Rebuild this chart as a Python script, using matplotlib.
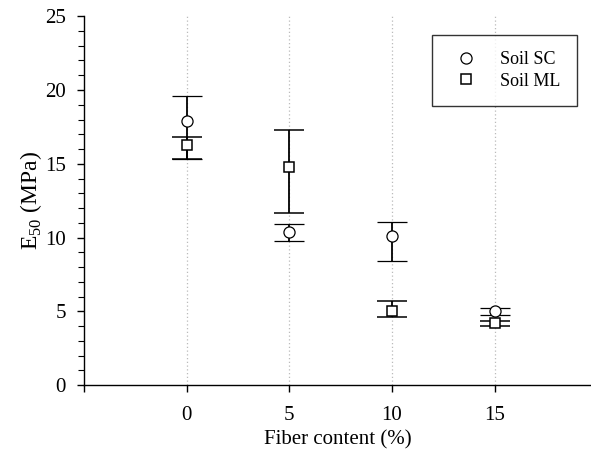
import matplotlib
matplotlib.use("Agg")
import matplotlib.pyplot as plt
import numpy as np

plt.rcParams["font.family"] = ["Liberation Serif", "DejaVu Serif"]
plt.rcParams["mathtext.fontset"] = "custom"
plt.rcParams["mathtext.rm"] = "Liberation Serif"

# data
fiber = [0, 5, 10, 15]
sc_mean = [17.9, 10.4, 10.1, 5.0]
sc_upper = [19.6, 10.9, 11.05, 5.2]
sc_lower = [15.3, 9.8, 8.4, 4.75]
ml_mean = [16.25, 14.8, 5.05, 4.2]
ml_upper = [16.8, 17.3, 5.7, 4.35]
ml_lower = [15.3, 11.65, 4.6, 4.0]
xtick_labels = ["", "0", "5", "10", "15"]

fig = plt.figure(figsize=(5.91, 4.5), dpi=100)
ax = fig.add_axes([0.142, 0.144, 0.858, 0.820])

sc_err = [np.array(sc_mean) - np.array(sc_lower), np.array(sc_upper) - np.array(sc_mean)]
ml_err = [np.array(ml_mean) - np.array(ml_lower), np.array(ml_upper) - np.array(ml_mean)]

ax.errorbar(fiber, sc_mean, yerr=sc_err, fmt="o", ms=8, mfc="white", mec="black",
            mew=0.9, ecolor="black", elinewidth=1.3, capsize=10.5, capthick=1.4,
            label="Soil SC", zorder=3)
ax.errorbar(fiber, ml_mean, yerr=ml_err, fmt="s", ms=7.5, mfc="white", mec="black",
            mew=1.1, ecolor="black", elinewidth=1.3, capsize=10.5, capthick=1.4,
            label="Soil ML", zorder=4)

ax.set_xlim(-5, 19.7)
ax.set_ylim(0, 25)
ax.set_xticks([-5, 0, 5, 10, 15])
ax.set_xticklabels(xtick_labels)
ax.set_yticks(range(0, 26, 5))
ax.set_yticks(range(0, 26), minor=True)

for x in fiber:
    ax.axvline(x, color="#bbbbbb", lw=0.9, ls=(0, (1, 2)), zorder=0)

ax.spines["top"].set_visible(False)
ax.spines["right"].set_visible(False)
ax.spines["left"].set_linewidth(1.0)
ax.spines["bottom"].set_linewidth(1.0)
ax.tick_params(axis="x", direction="out", length=5, width=1, pad=10, labelsize=15)
ax.tick_params(axis="y", which="major", direction="out", length=5, width=1, pad=8, labelsize=15)
ax.tick_params(axis="y", which="minor", direction="out", length=4, width=0.8)

ax.set_xlabel("Fiber content (%)", fontsize=15, labelpad=4)
ax.set_ylabel("E$_{50}$ (MPa)", fontsize=17, labelpad=1)

handles, labels = ax.get_legend_handles_labels()
handles = [h[0] for h in handles]
leg = ax.legend(handles, labels, loc="upper left", bbox_to_anchor=(0.686, 0.949),
                fontsize=13, frameon=True, fancybox=False, edgecolor="black",
                borderpad=0.9, handletextpad=0.9, labelspacing=0.25, borderaxespad=0)
leg.get_frame().set_linewidth(1.0)

fig.savefig("out.png", dpi=100)
